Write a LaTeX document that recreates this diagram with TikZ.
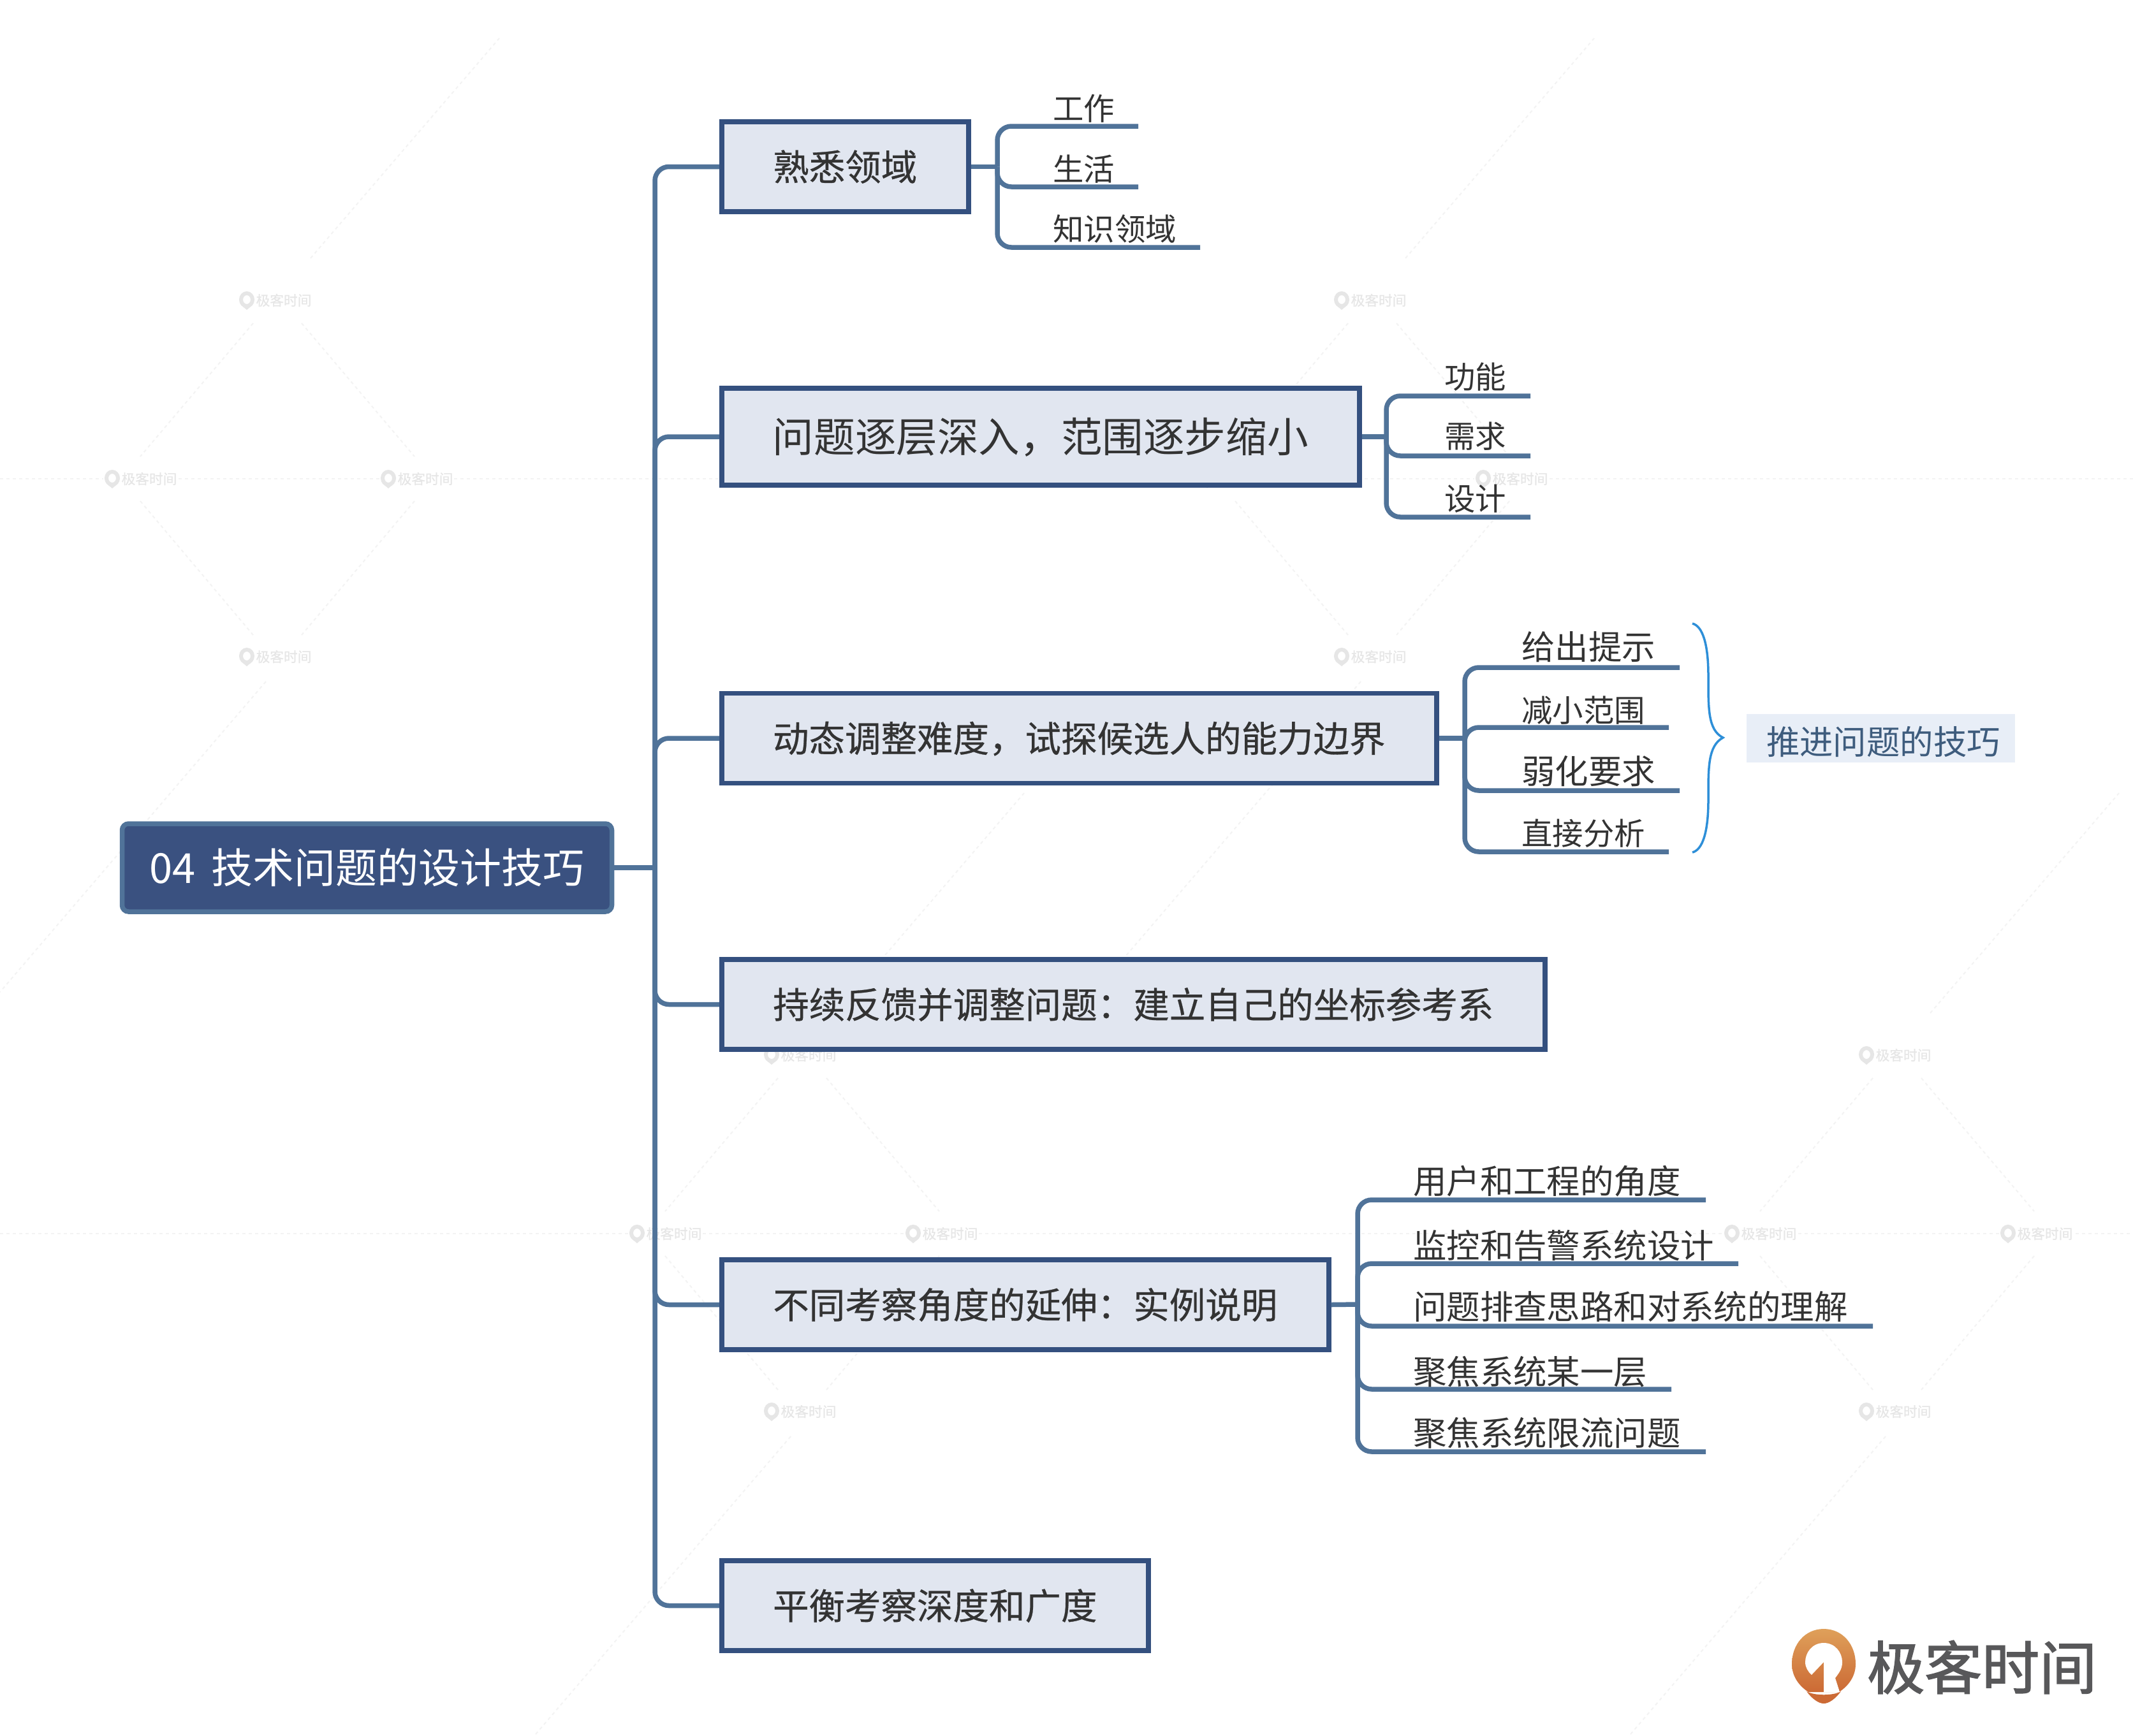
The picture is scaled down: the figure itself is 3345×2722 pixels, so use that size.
\documentclass[tikz,border=0pt]{standalone}
\usepackage{fontspec}
\setmainfont{Noto Sans CJK SC}
\newfontfamily\topicfont[FakeBold=0.5]{Noto Sans CJK SC}
\newfontfamily\logofont[FakeBold=1.8]{Noto Sans CJK SC}
\usetikzlibrary{positioning}
\definecolor{rootFill}{RGB}{58, 81, 128}
\definecolor{linkBlue}{RGB}{80, 115, 153}
\definecolor{topicEdge}{RGB}{52, 80, 127}
\definecolor{topicFill}{RGB}{225, 230, 240}
\definecolor{noteFill}{RGB}{232, 238, 247}
\definecolor{noteText}{RGB}{62, 92, 125}
\definecolor{braceBlue}{RGB}{46, 143, 216}
\definecolor{inkGrey}{RGB}{51, 51, 51}
\definecolor{logoGrey}{RGB}{88, 88, 90}
\definecolor{logoTop}{RGB}{223, 160, 90}
\definecolor{logoLow}{RGB}{204, 106, 53}
\definecolor{wmGrey}{RGB}{230, 230, 230}
\definecolor{wmLine}{RGB}{243, 243, 243}
\tikzset{
    link/.style={line width=7.5pt, linkBlue, rounded corners=22pt},
    rootbox/.style={draw=linkBlue, fill=rootFill, line width=7.5pt, rounded corners=10pt,
        text=white, inner sep=0pt, minimum width=768pt, minimum height=138pt,
        text height=57pt, text depth=8pt, font=\fontsize{65}{68}\selectfont},
    topicbox/.style={draw=topicEdge, fill=topicFill, line width=7.5pt, anchor=west,
        text=inkGrey, inner sep=0pt, minimum height=141pt,
        text height=50pt, text depth=7pt, font=\topicfont\fontsize{56.5}{60}\selectfont},
    topicwide/.style={topicbox, minimum height=152pt,
        text height=57pt, text depth=8pt, font=\fontsize{64.6}{68}\selectfont},
    subtext/.style={anchor=base west, inner sep=0pt, text=inkGrey, font=\fontsize{52.4}{56}\selectfont},
    subsmall/.style={subtext, font=\fontsize{48.4}{52}\selectfont},
    wmtext/.style={inner sep=0pt, text=wmGrey, font=\topicfont\fontsize{21.7}{24}\selectfont},
    wmrule/.style={wmLine, line width=2pt, dash pattern=on 5pt off 5pt}
}
\begin{document}
\begin{tikzpicture}[x=1pt, y=-1pt]
    \fill[white] (0,0) rectangle (3345,2722);
    \useasboundingbox (0,0) rectangle (3345,2722);

    \draw[wmrule] (0,751)--(162,751) (280,751)--(595,751) (712,751)--(1880,751) (2000,751)--(2312,751) (2430,751)--(3345,751);
    \draw[wmrule] (0,1935)--(985,1935) (1102,1935)--(1418,1935) (1535,1935)--(2703,1935) (2820,1935)--(3136,1935) (3255,1935)--(3345,1935);
    \foreach \ox/\oy [count=\t] in {431/471, 2148/471, 1254/1655, 2971/1655} {
        \begin{scope}[shift={(\ox,\oy)}]
            \draw[wmrule] (56,-66)--(352,-411);
            \draw[wmrule] (-34,36)--(-211,245);
            \draw[wmrule] (42,36)--(219,245);
            \draw[wmrule] (-211,315)--(-34,525);
            \draw[wmrule] (219,315)--(42,525);
            \draw[wmrule] (-14,598)--(-431,1085);
            \foreach \dx/\dy [count=\k] in {0/0, -211/280, 222/280, 0/559} {
                \draw[wmGrey, line width=6pt] (\dx-44,\dy-1) circle[x radius=9pt, y radius=10pt];
                \fill[wmGrey] (\dx-50,\dy+10) -- (\dx-38,\dy+10) -- (\dx-44,\dy+15) -- cycle;
                \node[wmtext] (wm\t\k) at (\dx+14,\dy) {极客时间};
            }
        \end{scope}
    }

    \node[rootbox] (root) at (575.5,1361) {04\hspace{11pt} 技术问题的设计技巧};
    \node[topicbox, minimum width=387pt] (topicA) at (1128,261.5) {熟悉领域};
    \node[topicwide, minimum width=1000pt] (topicB) at (1128,685) {问题逐层深入，范围逐步缩小};
    \node[topicbox, minimum width=1121pt] (topicC) at (1128,1158) {动态调整难度，试探候选人的能力边界};
    \node[topicbox, minimum width=1291pt] (topicD) at (1128,1575.5) {持续反馈并调整问题：建立自己的坐标参考系};
    \node[topicbox, minimum width=952pt] (topicE) at (1128,2046.5) {不同考察角度的延伸：实例说明};
    \node[topicbox, minimum width=669pt] (topicF) at (1128,2518.5) {平衡考察深度和广度};

    \coordinate (hubRoot) at (1027,1361);
    \draw[link] (root.east)--(hubRoot);
    \draw[link] (hubRoot) |- (topicA.west);
    \draw[link] (hubRoot) |- (topicB.west);
    \draw[link] (hubRoot) |- (topicC.west);
    \draw[link] (hubRoot) |- (topicD.west);
    \draw[link] (hubRoot) |- (topicE.west);
    \draw[link] (hubRoot) |- (topicF.west);

    \node[subsmall] (subAa) at (1651,188) {工作};
    \node[subsmall] (subAb) at (1651,283) {生活};
    \node[subsmall] (subAc) at (1651,377) {知识领域};
    \coordinate (hubA) at (1564,261.5);
    \coordinate (endAa) at (1785,198);
    \coordinate (endAb) at (1785,293);
    \coordinate (endAc) at (1882,388);
    \draw[link] (topicA.east)--(hubA);
    \draw[link] (hubA) |- (endAa);
    \draw[link] (hubA) |- (endAb);
    \draw[link] (hubA) |- (endAc);

    \node[subsmall] (subBa) at (2265,609) {功能};
    \node[subsmall] (subBb) at (2265,702) {需求};
    \node[subsmall] (subBc) at (2265,800) {设计};
    \coordinate (hubB) at (2174,685);
    \coordinate (endBa) at (2400,621);
    \coordinate (endBb) at (2400,715);
    \coordinate (endBc) at (2400,811);
    \draw[link] (topicB.east)--(hubB);
    \draw[link] (hubB) |- (endBa);
    \draw[link] (hubB) |- (endBb);
    \draw[link] (hubB) |- (endBc);

    \node[subtext] (subCa) at (2386,1034) {给出提示};
    \node[subsmall] (subCb) at (2386,1132) {减小范围};
    \node[subtext] (subCc) at (2386,1229) {弱化要求};
    \node[subsmall] (subCd) at (2386,1325) {直接分析};
    \coordinate (hubC) at (2297,1158);
    \coordinate (endCa) at (2634,1047);
    \coordinate (endCb) at (2617,1141);
    \coordinate (endCc) at (2634,1240);
    \coordinate (endCd) at (2617,1336);
    \draw[link] (topicC.east)--(hubC);
    \draw[link] (hubC) |- (endCa);
    \draw[link] (hubC) |- (endCb);
    \draw[link] (hubC) |- (endCc);
    \draw[link] (hubC) |- (endCd);

    \draw[braceBlue, line width=3.5pt] (2654,978) .. controls (2670,982) and (2679,1010) .. (2679,1060)
        .. controls (2679,1110) and (2678,1145) .. (2702,1157)
        .. controls (2678,1170) and (2679,1205) .. (2679,1255)
        .. controls (2679,1305) and (2670,1333) .. (2654,1337);
    \node[fill=noteFill, text=noteText, inner sep=0pt, minimum width=421pt, minimum height=76pt,
        text height=57pt, text depth=6pt, font=\fontsize{52.4}{56}\selectfont] (note) at (2949.5,1157.5) {\hspace*{8pt}推进问题的技巧};

    \node[subtext] (subEa) at (2216,1872) {用户和工程的角度};
    \node[subtext] (subEb) at (2216,1973) {监控和告警系统设计};
    \node[subtext] (subEc) at (2216,2069) {问题排查思路和对系统的理解};
    \node[subtext] (subEd) at (2216,2171) {聚焦系统某一层};
    \node[subtext] (subEe) at (2216,2267) {聚焦系统限流问题};
    \coordinate (hubE) at (2129,2046);
    \coordinate (endEa) at (2675,1882);
    \coordinate (endEb) at (2726,1982);
    \coordinate (endEc) at (2937,2080);
    \coordinate (endEd) at (2621,2179);
    \coordinate (endEe) at (2675,2277);
    \draw[link] (topicE.east)--(hubE);
    \draw[link] (hubE) |- (endEa);
    \draw[link] (hubE) |- (endEb);
    \draw[link] (hubE) |- (endEc);
    \draw[link] (hubE) |- (endEd);
    \draw[link] (hubE) |- (endEe);

    \shade[top color=logoTop, bottom color=logoLow, even odd rule]
        (2860,2555) .. controls (2890,2555) and (2910,2580) .. (2910,2610)
        .. controls (2910,2630) and (2898,2645) .. (2884,2654)
        -- (2836,2654) .. controls (2822,2645) and (2810,2630) .. (2810,2610)
        .. controls (2810,2580) and (2830,2555) .. (2860,2555) -- cycle;
    \fill[white] (2860,2577) .. controls (2878,2577) and (2889,2592) .. (2889,2607)
        .. controls (2889,2618) and (2884,2624) .. (2878,2632)
        -- (2885,2654) -- (2860,2654) -- (2860,2607) -- (2841,2627)
        .. controls (2835,2622) and (2831,2615) .. (2831,2607)
        .. controls (2831,2592) and (2842,2577) .. (2860,2577) -- cycle;
    \fill[logoLow] (2833,2653) .. controls (2845,2660) and (2875,2660) .. (2887,2653)
        .. controls (2878,2665) and (2868,2672) .. (2860,2672)
        .. controls (2852,2672) and (2842,2665) .. (2833,2653) -- cycle;
    \node[anchor=west, inner sep=0pt, text=logoGrey, font=\logofont\fontsize{90}{94}\selectfont] (logotext) at (2928,2615) {极客时间};
\end{tikzpicture}
\end{document}
